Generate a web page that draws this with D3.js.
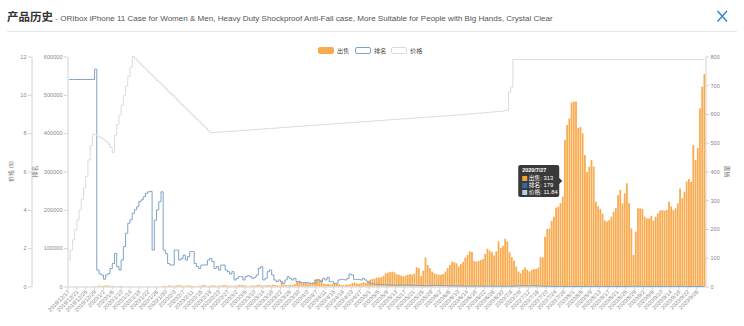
<!DOCTYPE html>
<html><head><meta charset="utf-8">
<script src="https://cdn.jsdelivr.net/npm/d3@7"></script>
<style>
html,body{margin:0;padding:0;background:#fff;}
svg{display:block;font-family:"Liberation Sans","Noto Sans CJK SC",Arial,sans-serif;}
</style></head><body>
<svg id="c" width="744" height="326"></svg>
<script>
// ---------------- data ----------------
const titleMain = "产品历史";
const titleSub = " - ORIbox iPhone 11 Case for Women & Men, Heavy Duty Shockproof Anti-Fall case, More Suitable for People with Big Hands, Crystal Clear";
const seriesNames = ["出售", "排名", "价格"];
const axisNamePrice = "价格 ($)";
const axisNameRank = "排名";
const axisNameSales = "销量";
const firstDay = [2019, 11, 17];   // 2019/12/17, one category per day
const labelEvery = 4;
const tooltipIndex = 223;          // 2020/7/27

const sales = [0,0,0,0,0,0,0,0,0,0,0,0,0,
2,3,2,3,4,3,2,2,
2,1,2,1,
0,0,0,0,0,0,0,0,0,0,0,0,0,0,0,0,0,
2,3,2,4,3,2,3,5,4,3,2,3,4,3,2,1,2,3,4,5,3,2,3,4,3,2,3,4,5,4,3,3,2,3,4,6,5,4,3,2,3,4,3,5,6,4,3,4,5,4,6,5,4,3,
17,6,5,4,6,5,8,18,20,14,12,15,10,12,14,24,26,25,22,10,8,9,7,10,12,9,8,6,5,7,6,8,12,14,10,9,12,15,13,18,
23,26,28,31,31,33,37,46,48,50,52,50,43,41,38,35,38,41,43,41,45,67,64,36,55,101,75,64,52,46,43,41,41,43,52,64,75,86,84,81,70,78,86,100,110,122,120,88,87,89,
92,96,113,131,125,119,108,122,157,134,141,166,157,119,102,90,69,52,46,58,66,58,52,58,60,61,66,102,101,173,200,202,228,243,274,278,290,313,509,562,585,640,643,643,551,555,533,457,399,417,440,417,
295,279,270,254,230,226,231,243,260,272,318,336,289,324,359,290,202,110,191,272,272,270,243,237,237,246,229,243,254,264,266,264,266,295,278,266,272,289,341,307,330,365,374,364,492,440,481,620,695,739];

const rank = [540000,540000,540000,540000,540000,540000,540000,540000,540000,540000,540000,540000,567000,
43000,33000,30000,19000,30000,34000,47000,60000,86000,52000,43000,69000,104000,139000,165000,174000,191000,200000,208000,221000,226000,234000,243000,247000,248000,95000,173000,200000,221000,247000,95000,86000,60000,56000,56000,95000,95000,69000,73000,82000,69000,78000,91000,91000,60000,52000,47000,56000,56000,56000,69000,73000,65000,47000,52000,43000,56000,56000,43000,38700,32600,38700,
17000,21000,25700,25700,17000,25700,28300,25700,21300,23900,30000,47400,51700,17000,21300,38700,43000,30000,17000,12600,17000,12600,8300,17000,25700,21300,17000,21300,12600,12600,10000,10000,10000,10000,8300,8300,8300,17000,17000,12600,21300,17000,23900,12600,12600,8300,8300,17000,18700,18700,17000,21300,32600,30000,18700,18700,18700,17000,21300,17000,12600,8300,
7000,6500,6000,5600,5200,4800,4500,4200,4000,3800,3600,3500,3700,3900,
4200,4000,3800,3600,3400,3200,2600,2700,3500,2200,1900,2100,2400,2700,2900,3000,3000,2800,2600,2300,
2000,1800,1600,1600,1700,1800,1600,1400,1200,1100,1000,1000,1300,1300,1200,1100,1000,900,900,950,1000,900,800,850,800,700,750,900,1000,1100,
1200,1500,1800,2000,1800,1700,1800,1900,1800,1800,1700,1600,1100,1000,600,500,480,420,380,330,290,230,179,150,130,110,100,100,100,120,
130,150,180,220,210,190,210,260,300,320,350,380,370,340,310,290,260,220,200,240,210,180,250,420,700,380,260,260,270,300,
310,310,300,320,300,290,280,275,280,280,250,265,280,270,250,210,230,220,200,190,200,160,170,160,130,110,100];

const price = [1.38,1.9,2.43,2.95,3.47,3.99,4.55,5.15,5.75,6.6,7.35,7.95,
7.92,7.85,7.8,7.73,7.65,7.56,7.43,7.25,7.0,
7.9,8.45,8.95,9.45,9.95,10.45,10.95,11.45,12.0,
11.89,11.77,11.66,11.54,11.43,11.32,11.2,11.09,10.98,10.86,10.75,10.64,10.52,10.41,10.3,10.18,10.07,9.96,9.84,9.73,9.62,9.5,9.39,9.28,9.16,9.05,8.94,8.82,8.71,8.6,8.48,8.37,8.26,8.14,8.02,
8.03,8.04,8.05,8.05,8.06,8.07,8.08,8.09,8.1,8.1,8.11,8.12,8.13,8.14,8.15,8.15,8.16,8.17,8.18,8.19,8.2,8.2,8.21,8.22,8.23,8.24,8.25,8.25,8.26,8.27,8.28,8.29,8.3,8.3,8.31,8.32,8.33,8.34,8.35,8.35,8.36,8.37,8.38,8.39,8.4,8.4,8.41,8.42,8.43,8.44,8.45,8.45,8.46,8.47,8.48,8.49,8.5,8.5,8.51,8.52,8.53,8.54,8.55,8.55,8.56,8.57,8.58,8.59,8.6,8.6,8.61,8.62,8.63,8.64,8.65,8.65,8.66,8.67,8.68,8.69,8.7,8.7,8.71,8.72,8.73,8.74,8.75,8.75,8.76,8.77,8.78,8.79,8.8,8.8,8.81,8.82,8.83,8.84,8.85,8.85,8.86,8.87,8.88,8.89,8.9,8.9,8.91,8.92,8.93,8.94,8.95,8.95,8.96,8.97,8.98,8.99,9.0,9.01,9.02,9.03,9.04,9.05,9.06,9.07,9.08,9.09,9.1,9.11,9.12,9.13,9.14,9.15,9.17,9.19,
10.15,10.4,
11.84,11.84,11.84,11.84,11.84,11.84,11.84,11.84,11.84,11.84,11.84,11.84,11.84,11.84,11.84,11.84,11.84,11.84,11.84,11.84,11.84,11.84,11.84,11.84,11.84,11.84,11.84,11.84,11.84,11.84,11.84,11.84,11.84,11.84,11.84,11.84,11.84,11.84,11.84,11.84,11.84,11.84,11.84,11.84,11.84,11.84,11.84,11.84,11.84,11.84,11.84,11.84,11.84,11.84,11.84,11.84,11.84,11.84,11.84,11.84,11.84,11.84,11.84,11.84,11.84,11.84,11.84,11.84,11.84,11.84,11.84,11.84,11.84,11.84,11.84,11.84,11.84,11.84,11.84,11.84,11.84,11.84,11.84,11.84,11.84,11.84,11.84];

const priceTicks = [0, 2, 4, 6, 8, 10, 12];
const rankTicks = [0, 100000, 200000, 300000, 400000, 500000, 600000];
const salesTicks = [0, 100, 200, 300, 400, 500, 600, 700, 800];

// ---------------- chart ----------------
if (sales.length !== rank.length || rank.length !== price.length)
  throw new Error("length mismatch " + sales.length + " " + rank.length + " " + price.length);

const n = sales.length;
const d0 = new Date(firstDay[0], firstDay[1], firstDay[2]);
const days = d3.timeDay.range(d0, d3.timeDay.offset(d0, n));
const categories = days.map(d3.timeFormat("%Y/%-m/%-d"));

const C = {bar: "#f9ab4f", barTip: "#f5a133", rank: "#7ea3c6", rankTip: "#2f6ca3", price: "#d4dde6", priceTip: "#b8cde0",
           axis: "#d2d2d2", label: "#8a8a8a"};
const P = {left: 68, right: 705.5, top: 56.5, bottom: 286.5};

const svg = d3.select("#c");
svg.append("rect").attr("width", 744).attr("height", 326).attr("fill", "#fff");

// title
const t = svg.append("text").attr("x", 7).attr("y", 20.5);
t.append("tspan").text(titleMain).attr("font-weight", "bold").attr("font-size", 11.5).attr("fill", "#333");
const sub = t.append("tspan").text(titleSub).attr("font-size", 10).attr("fill", "#555");
{
  const len = sub.node().getComputedTextLength();
  sub.attr("font-size", 10 * 501 / len);
}
// close icon
svg.append("path").attr("d", "M717.5,11 L727,21.5 M727,11 L717.5,21.5").attr("stroke", "#3c86c8").attr("stroke-width", 1.5).attr("fill", "none");
svg.append("line").attr("x1", 7).attr("x2", 737).attr("y1", 31.5).attr("y2", 31.5).attr("stroke", "#e6e6e6");

// legend
const legend = [
  {name: seriesNames[0], x: 318, fill: C.bar, stroke: C.bar},
  {name: seriesNames[1], x: 355, fill: "#fff", stroke: "#7ea3c6"},
  {name: seriesNames[2], x: 391, fill: "#fff", stroke: "#d4dce4"}
];
const lg = svg.append("g").selectAll("g").data(legend).join("g").attr("transform", d => `translate(${d.x},47)`);
lg.append("rect").attr("x", 0.5).attr("y", 0.5).attr("width", 15).attr("height", 6).attr("rx", 1.5)
  .attr("fill", d => d.fill).attr("stroke", d => d.stroke);
lg.append("text").attr("x", 19).attr("y", 6.2).attr("font-size", 6.2).attr("fill", "#444").text(d => d.name);

// scales
const x = d3.scaleBand().domain(d3.range(n)).range([P.left, P.right]).padding(0);
const bw = x.bandwidth();
const xc = i => x(i) + bw / 2;
const yPrice = d3.scaleLinear().domain([0, 12]).range([P.bottom, P.top]);
const yRank = d3.scaleLinear().domain([0, 600000]).range([P.bottom, P.top]);
const ySales = d3.scaleLinear().domain([0, 800]).range([P.bottom, P.top]);

function styleAxis(g) {
  g.attr("font-family", null).attr("font-size", null);
  g.select(".domain").attr("stroke", C.axis);
  g.selectAll(".tick line").attr("stroke", C.axis);
  g.selectAll(".tick text").attr("fill", C.label).attr("font-size", 5.6);
}
svg.append("g").attr("transform", "translate(31.5,0)")
  .call(d3.axisLeft(yPrice).tickValues(priceTicks).tickSize(3.5).tickSizeOuter(0).tickPadding(1.5)).call(styleAxis);
svg.append("g").attr("transform", `translate(${P.left - 0.5},0)`)
  .call(d3.axisLeft(yRank).tickValues(rankTicks).tickFormat(d3.format("d")).tickSize(3.5).tickSizeOuter(0).tickPadding(1.5)).call(styleAxis);
svg.append("g").attr("transform", `translate(${P.right},0)`)
  .call(d3.axisRight(ySales).tickValues(salesTicks).tickSize(3.5).tickSizeOuter(0).tickPadding(1.5)).call(styleAxis);

// axis names
const nm = [{t: axisNamePrice, x: 13}, {t: axisNameRank, x: 37}, {t: axisNameSales, x: 729}];
svg.append("g").selectAll("text").data(nm).join("text")
  .attr("transform", d => `translate(${d.x},${(P.top + P.bottom) / 2}) rotate(-90)`)
  .attr("text-anchor", "middle").attr("font-size", 6).attr("fill", "#777").text(d => d.t);

// bars
svg.append("g").selectAll("rect").data(sales).join("rect")
  .attr("x", (d, i) => x(i) + bw * 0.1).attr("width", bw * 0.8)
  .attr("y", d => ySales(d)).attr("height", d => P.bottom - ySales(d))
  .attr("fill", C.bar);

// x axis
const labelIdx = d3.range(0, n, labelEvery);
const xa = svg.append("g").attr("transform", `translate(0,${P.bottom})`)
  .call(d3.axisBottom(x).tickValues(labelIdx).tickFormat(i => categories[i]).tickSize(0).tickSizeOuter(0));
xa.attr("font-family", null).attr("font-size", null);
xa.select(".domain").attr("stroke", C.axis);
xa.selectAll(".tick text").attr("fill", C.label).attr("font-size", 5.6)
  .attr("y", 0).attr("dy", "0.35em").attr("transform", "translate(-0.5,4.5) rotate(-45)").attr("text-anchor", "end");
xa.selectAll(".tick").append("line").attr("x1", -bw / 2).attr("x2", -bw / 2).attr("y1", 0).attr("y2", 3).attr("stroke", C.axis);

// lines
const lineRank = d3.line().x((d, i) => xc(i)).y(d => yRank(d)).curve(d3.curveStep);
const linePrice = d3.line().x((d, i) => xc(i)).y(d => yPrice(d)).curve(d3.curveStep);
svg.append("path").attr("d", lineRank(rank)).attr("fill", "none").attr("stroke", C.rank).attr("stroke-width", 1);
svg.append("path").attr("d", linePrice(price)).attr("fill", "none").attr("stroke", C.price).attr("stroke-width", 1);

// tooltip
const ti = tooltipIndex;
const tipX = xc(ti) - 0.5, tipY = 181;
const tg = svg.append("g").attr("transform", `translate(${tipX},${tipY})`);
tg.append("path").attr("d", "M-42,-16 L-5,-16 Q-3,-16 -3,-14 L-3,-3 L0,0 L-3,3 L-3,14 Q-3,16 -5,16 L-42,16 Q-44,16 -44,14 L-44,-14 Q-44,-16 -42,-16 Z")
  .attr("fill", "rgba(40,40,40,0.92)");
tg.append("text").attr("x", -40).attr("y", -9.5).attr("font-size", 5.4).attr("font-weight", "bold").attr("fill", "#fff").text(categories[ti]);
const rows = [
  {c: C.barTip, t: `${seriesNames[0]}: ${sales[ti]}`},
  {c: C.rankTip, t: `${seriesNames[1]}: ${rank[ti]}`},
  {c: C.priceTip, t: `${seriesNames[2]}: ${price[ti]}`}
];
const rg = tg.selectAll("g.r").data(rows).join("g").attr("transform", (d, k) => `translate(-40,${-5 + k * 7})`);
rg.append("rect").attr("width", 5).attr("height", 5).attr("fill", d => d.c);
rg.append("text").attr("x", 6.5).attr("y", 4.4).attr("font-size", 5.8).attr("fill", "#fff").text(d => d.t);
</script>
</body></html>
